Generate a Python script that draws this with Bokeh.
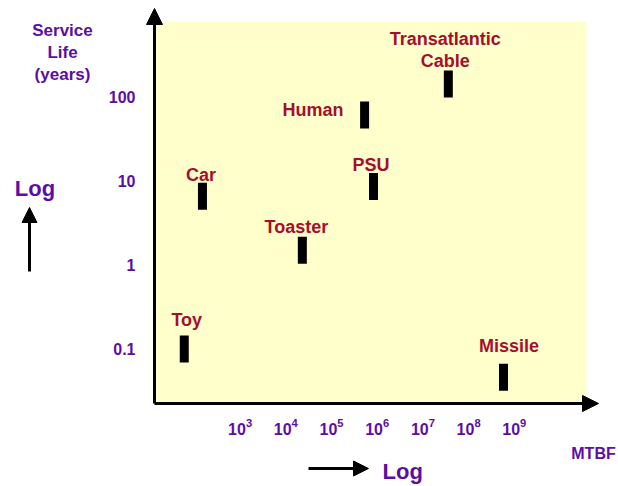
from bokeh.plotting import figure
from bokeh.layouts import row, column
from bokeh.models import (Range1d, FixedTicker, CustomJSTickFormatter, BoxAnnotation,
                          Arrow, NormalHead, ColumnDataSource)
from bokeh.embed import file_html
from bokeh.resources import INLINE
from bokeh.core.properties import value

# ---- data ----
items = ["Toy", "Car", "Toaster", "Human", "PSU", "Transatlantic\nCable", "Missile"]
mtbf = [60, 150, 2.3e4, 5.3e5, 8.3e5, 3.6e7, 5.8e8]
service_life = [0.1, 6.6, 1.5, 61, 8.6, 143, 0.046]
x_ticks = [1e3, 1e4, 1e5, 1e6, 1e7, 1e8, 1e9]
y_ticks = [0.1, 1, 10, 100]
y_tick_labels = ["0.1", "1", "10", "100"]

# ---- layout (label offsets in px, relative to bar centre) ----
label_dx = [2.5, -1.5, -6, -51.5, -2.5, -3, 5.5]
label_dy = [-29.5, -21.5, -23, -5.5, -22, -33.5, -31.5]

PURPLE = "#5C0EA4"
RED = "#A60E2C"
FONT = "Liberation Sans"
W, H = 618, 486

# pixel geometry -> data values on the log scales
def lx(px):
    return 10 ** (6 + (px - 376.7) / 45.7)

def ly(py):
    return 10 ** (0.5 - (py - 222.5) / 84.0)

# ================= main figure =================
MAIN_L, MAIN_B = 100, 444          # main figure occupies x 100..618, y 0..444
FR_L, FR_B = 142, 412              # frame left / bottom (page px)
AX_X, AX_Y = 154, 403              # where the drawn axes sit

p = figure(width=W - MAIN_L, height=MAIN_B, x_axis_type="log", y_axis_type="log",
           x_range=Range1d(lx(FR_L), lx(W)), y_range=Range1d(ly(FR_B), ly(0)),
           output_backend="svg", toolbar_location=None, title=None,
           min_border_left=FR_L - MAIN_L, min_border_right=0, min_border_top=0,
           min_border_bottom=MAIN_B - FR_B)
p.outline_line_color = None
p.grid.visible = False
p.background_fill_color = "white"
p.border_fill_color = "white"

p.add_layout(BoxAnnotation(left=lx(AX_X), right=lx(586), top=ly(21), bottom=ly(AX_Y),
                           fill_color="#FFFFCC", fill_alpha=1.0, line_color=None,
                           level="underlay"))

for ax in (p.xaxis[0], p.yaxis[0]):
    ax.axis_line_color = None
    ax.major_tick_line_color = None
    ax.minor_tick_line_color = None
    ax.major_label_text_font = FONT
    ax.major_label_text_font_style = "bold"
    ax.major_label_text_color = PURPLE
    ax.major_label_text_font_size = "16px"

p.xaxis.ticker = FixedTicker(ticks=x_ticks)
p.xaxis.major_label_standoff = -1
p.yaxis.ticker = FixedTicker(ticks=y_ticks)
p.yaxis.formatter = CustomJSTickFormatter(
    args=dict(yt=y_ticks, labels=y_tick_labels),
    code="const i = yt.findIndex(t => Math.abs(t - tick) < 1e-9*Math.abs(t)); return i >= 0 ? labels[i] : '';")
p.yaxis.major_label_standoff = 1

p.add_layout(Arrow(end=NormalHead(size=16, fill_color="black", line_color="black"),
                   x_start=lx(AX_X), y_start=ly(AX_Y), x_end=lx(AX_X), y_end=ly(8),
                   line_width=3, line_color="black"))
p.add_layout(Arrow(end=NormalHead(size=16, fill_color="black", line_color="black"),
                   x_start=lx(AX_X), y_start=ly(AX_Y), x_end=lx(598), y_end=ly(AX_Y),
                   line_width=3, line_color="black"))

src = ColumnDataSource(dict(item=items, mtbf=mtbf, life=service_life,
                            dx=label_dx, dy=label_dy))
p.rect(x="mtbf", y="life", width=9, height=27, width_units="screen",
       height_units="screen", fill_color="black", line_color=None, source=src)
p.text(x="mtbf", y="life", text="item", x_offset="dx", y_offset="dy", source=src,
       text_font=value(FONT), text_font_style="bold", text_font_size="18px",
       text_color=RED, text_align="center", text_baseline="alphabetic",
       text_line_height=1.1)

# ================= side strips (pixel coordinates) =================
def strip(x0, x1, y0, y1, border_left=0):
    f = figure(width=x1 - x0, height=y1 - y0, x_range=Range1d(x0 + border_left, x1),
               y_range=Range1d(y1, y0), x_axis_location=None, y_axis_location=None,
               output_backend="svg", toolbar_location=None, title=None,
               min_border=0, min_border_left=border_left, min_border_right=0,
               min_border_top=0, min_border_bottom=0)
    f.outline_line_color = None
    f.grid.visible = False
    f.background_fill_color = "white"
    f.border_fill_color = "white"
    return f

left = strip(0, MAIN_L, 0, H)
left.text(x=[62, 62, 62], y=[30, 52, 74], text=["Service", "Life", "(years)"],
          text_font=value(FONT), text_font_style="bold", text_font_size="17px",
          text_color=PURPLE, text_align="center", text_baseline="alphabetic")
left.text(x=[34.5], y=[188], text=["Log"], text_font=value(FONT),
          text_font_style="bold", text_font_size="22px", text_color=PURPLE,
          text_align="center", text_baseline="alphabetic")
left.add_layout(Arrow(end=NormalHead(size=15, fill_color="black", line_color="black"),
                      x_start=29, y_start=271, x_end=29, y_end=207,
                      line_width=3, line_color="black"))

bottom = strip(MAIN_L, W, MAIN_B, H, border_left=FR_L - MAIN_L)
bottom.text(x=[382], y=[471], text=["Log"], text_font=value(FONT),
            text_font_style="bold", text_font_size="22px", text_color=PURPLE,
            text_align="left", text_baseline="alphabetic")
bottom.add_layout(Arrow(end=NormalHead(size=15, fill_color="black", line_color="black"),
                        x_start=308, y_start=468, x_end=368, y_end=468,
                        line_width=3, line_color="black"))
bottom.text(x=[593], y=[453], text=["MTBF"], text_font=value(FONT),
            text_font_style="bold", text_font_size="16px", text_color=PURPLE,
            text_align="center", text_baseline="alphabetic")

layout = row(left, column(p, bottom))
open("out.html", "w").write(file_html(layout, INLINE))
